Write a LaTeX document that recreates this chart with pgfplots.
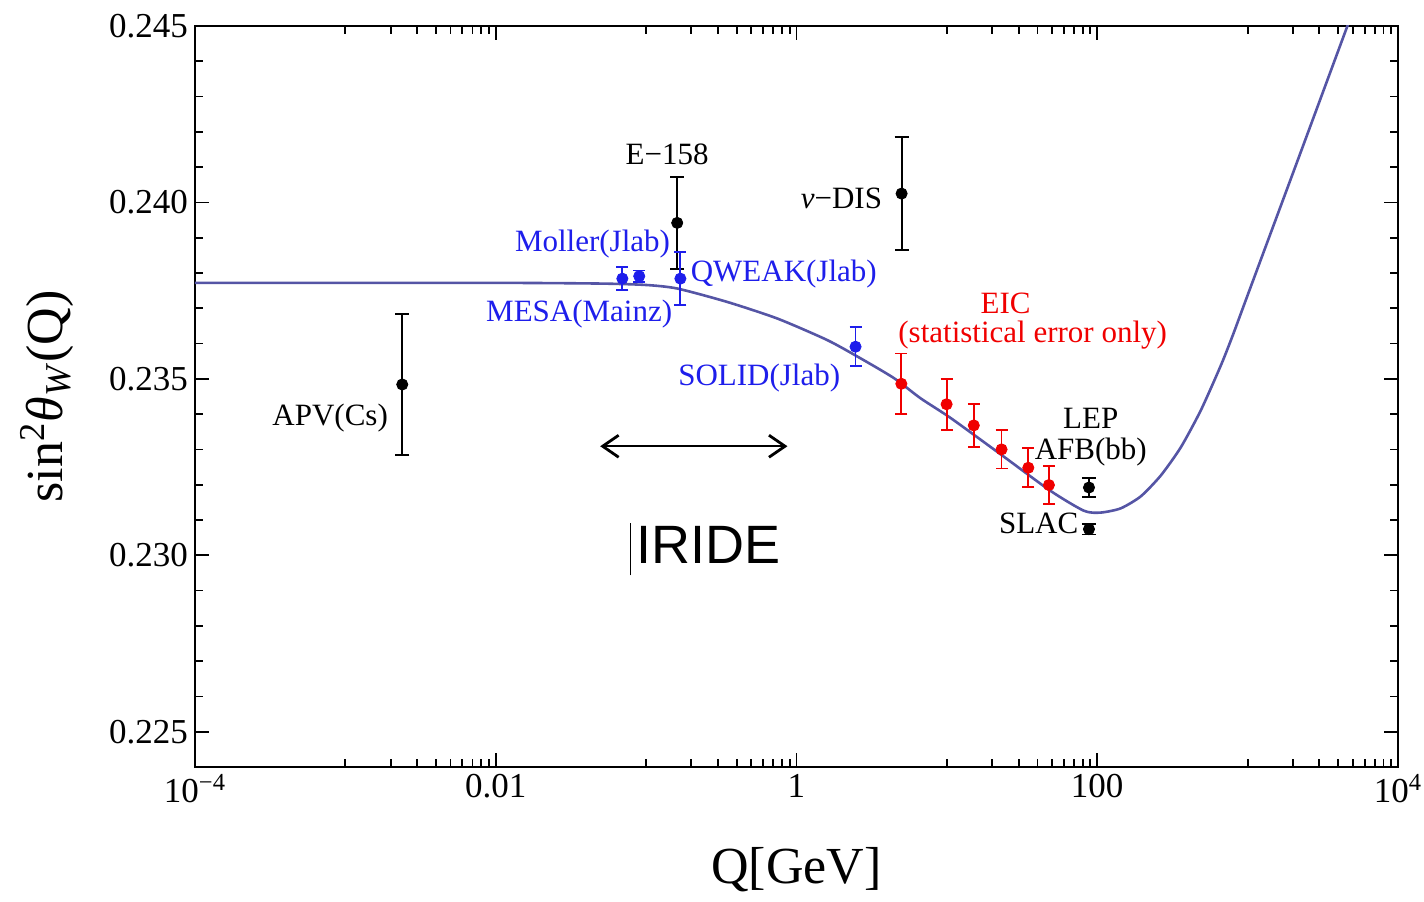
\documentclass[border=0pt]{standalone}
\usepackage{pgfplots}
\pgfplotsset{compat=1.18}
\usetikzlibrary{arrows.meta}
\usepackage{fontspec}
\setmainfont{Liberation Serif}
\newfontfamily\arialfont{Liberation Sans}
\definecolor{curvecol}{RGB}{85,85,165}
\definecolor{pblue}{RGB}{30,30,235}
\definecolor{pred}{RGB}{240,0,0}
\newcommand\af{\fontsize{15.5}{18}\selectfont}
\begin{document}
\begin{tikzpicture}
\begin{axis}[
  name=ax, at={(0,0)}, anchor=south west,
  scale only axis, width=601.5pt, height=370.5pt,
  xmode=log, xmin=1e-4, xmax=1e4, ymin=0.224, ymax=0.245,
  xtick={1e-4,1e-2,1,1e2,1e4},
  xticklabels={10\textsuperscript{−4},0.01,1,100,10\textsuperscript{4}},
  minor xtick={0.001,0.002,0.003,0.004,0.005,0.006,0.007,0.008,0.009,
               0.1,0.2,0.3,0.4,0.5,0.6,0.7,0.8,0.9,
               10,20,30,40,50,60,70,80,90,
               1000,2000,3000,4000,5000,6000,7000,8000,9000},
  ytick={0.225,0.23,0.235,0.24,0.245},
  minor y tick num=4,
  yticklabel style={/pgf/number format/fixed,/pgf/number format/precision=3,/pgf/number format/fixed zerofill},
  /pgf/number format/assume math mode=true,
  tick label style={font=\fontsize{17.5}{20}\selectfont, black},
  major tick length=7pt, minor tick length=4pt,
  tick style={black, line width=0.9pt},
  axis line style={line width=1.1pt, black},
  xlabel={Q[GeV]},
  ylabel={sin\textsuperscript{2}\textit{θ}\textsubscript{\textit{W}}(Q)},
  label style={font=\fontsize{26}{30}\selectfont},
  xlabel style={at={(axis description cs:0.5,-0.139)}, anchor=center},
  ylabel style={at={(axis description cs:-0.123,0.5)}, anchor=center},
]
\addplot[curvecol, line width=1.3pt, smooth, tension=0.4] coordinates {
  (1e-4,0.23772) (1e-2,0.23772) (0.05,0.23770) (0.1,0.23766) (0.161,0.23756)
  (0.346,0.23718) (0.745,0.23671) (1.6,0.23610) (2.67,0.23558) (4.45,0.23502)
  (6.68,0.23445) (10.6,0.23389) (22.8,0.23286) (49.1,0.23182) (81.7,0.23126)
  (105.5,0.23121) (143.3,0.23133) (194.8,0.23167) (264.6,0.23226)
  (359.6,0.23306) (488.7,0.23411) (663.8,0.23538) (797.8,0.23624)
  (1000,0.23737) (2262,0.24144) (4508,0.24489) (5672,0.24603)};

\addplot[only marks, mark=*, mark size=2.8pt, black,
  error bars/.cd, y dir=both, y explicit,
  error bar style={line width=0.9pt, black},
  error mark options={rotate=90, mark size=3.5pt, line width=0.9pt, black}]
  coordinates {
  (0.00239,0.23484) +- (0,0.00200)
  (0.161,0.23942) +- (0,0.00130)
  (5.0,0.24025) +- (0,0.00160)
  (88.1,0.23192) +- (0,0.00027)
  (88.1,0.23074) +- (0,0.00015)};

\addplot[only marks, mark=*, mark size=2.8pt, pblue,
  error bars/.cd, y dir=both, y explicit,
  error bar style={line width=0.9pt, pblue},
  error mark options={rotate=90, mark size=3pt, line width=0.9pt, pblue}]
  coordinates {
  (0.0695,0.23784) +- (0,0.00033)
  (0.090,0.23791) +- (0,0.00016)
  (0.169,0.23784) +- (0,0.00075)
  (2.47,0.23591) +- (0,0.00055)};

\addplot[only marks, mark=*, mark size=2.8pt, pred,
  error bars/.cd, y dir=both, y explicit,
  error bar style={line width=0.9pt, pred},
  error mark options={rotate=90, mark size=3pt, line width=0.9pt, pred}]
  coordinates {
  (4.98,0.23486) +- (0,0.00086)
  (9.96,0.23428) +- (0,0.00072)
  (15.1,0.23368) +- (0,0.00061)
  (23.1,0.23300) +- (0,0.00054)
  (34.8,0.23248) +- (0,0.00055)
  (47.7,0.23199) +- (0,0.00053)};

\node[inner sep=0pt, font=\af] at (axis cs:0.138,0.24135) {E−158};
\node[inner sep=0pt, font=\af, anchor=east] at (axis cs:3.73,0.24011) {\textit{ν}−DIS};
\node[inner sep=0pt, font=\af, anchor=east, pblue] at (axis cs:0.145,0.23882) {Moller(Jlab)};
\node[inner sep=0pt, font=\af, anchor=west, pblue] at (axis cs:0.197,0.23797) {QWEAK(Jlab)};
\node[inner sep=0pt, font=\af, anchor=east, pblue] at (axis cs:0.150,0.23684) {MESA(Mainz)};
\node[inner sep=0pt, font=\af, anchor=east, pblue] at (axis cs:1.963,0.23501) {SOLID(Jlab)};
\node[inner sep=0pt, font=\af, pred] at (axis cs:24.6,0.23713) {EIC};
\node[inner sep=0pt, font=\af, pred] at (axis cs:37.2,0.23625) {(statistical error only)};
\node[inner sep=0pt, font=\af] at (axis cs:90.6,0.23388) {LEP};
\node[inner sep=0pt, font=\af] at (axis cs:90.6,0.23292) {AFB(bb)};
\node[inner sep=0pt, font=\af, anchor=east] at (axis cs:75.3,0.23089) {SLAC};
\node[inner sep=0pt, font=\af, anchor=east] at (axis cs:0.00193,0.23388) {APV(Cs)};
\draw[{Straight Barb[length=8pt,width=11pt,line width=1.4pt]}-{Straight Barb[length=8pt,width=11pt,line width=1.4pt]}, line width=0.8pt]
  (axis cs:0.0495,0.23309) -- (axis cs:0.871,0.23309);
\node[inner sep=0pt, anchor=base, font=\arialfont\fontsize{27}{30}\selectfont] at (axis cs:0.246,0.22977)
  {\rule[-6pt]{0.8pt}{26pt}\hspace{2.5pt}IRIDE};
\end{axis}
\pgfresetboundingbox
\path[use as bounding box] ([shift={(-97.5pt,-67.5pt)}]ax.south west) rectangle ([shift={(13pt,13pt)}]ax.north east);
\end{tikzpicture}
\end{document}
